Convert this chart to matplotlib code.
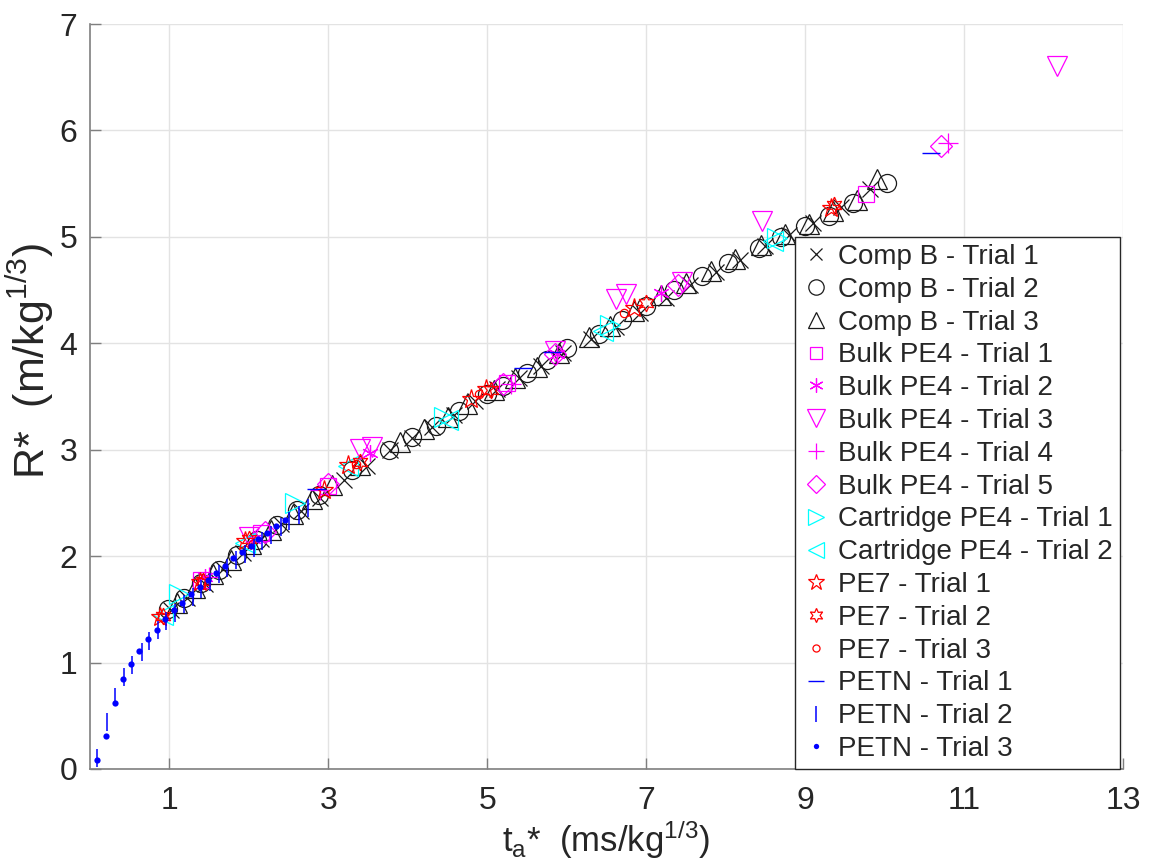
import matplotlib
matplotlib.use("Agg")
import matplotlib.pyplot as plt

plt.rcParams['font.family'] = ['Liberation Sans', 'DejaVu Sans']
plt.rcParams['mathtext.fontset'] = 'custom'
plt.rcParams['mathtext.rm'] = 'Liberation Sans'
plt.rcParams['mathtext.it'] = 'Liberation Sans:italic'

# ---------------- data ----------------
compb1_t = [1.02, 1.22, 1.45, 1.68, 1.92, 2.15, 2.40, 2.65, 2.90, 3.20, 3.48, 3.78, 4.05, 4.30, 4.58, 4.85,
            5.12, 5.40, 5.68, 5.95, 6.30, 6.62, 6.92, 7.25, 7.55, 7.88, 8.18, 8.50, 8.80, 9.10, 9.45, 9.82]
compb1_r = [1.49, 1.61, 1.74, 1.88, 2.03, 2.16, 2.30, 2.42, 2.55, 2.72, 2.85, 3.00, 3.11, 3.21, 3.33, 3.46,
            3.57, 3.67, 3.79, 3.91, 4.04, 4.15, 4.28, 4.43, 4.55, 4.67, 4.78, 4.91, 5.02, 5.13, 5.28, 5.45]

compb2_t = [0.98, 1.18, 1.40, 1.62, 1.85, 2.10, 2.35, 2.60, 2.88, 3.30, 3.76, 4.05, 4.36, 4.65, 5.00, 5.20,
            5.50, 5.75, 6.00, 6.40, 6.70, 7.00, 7.35, 7.70, 8.03, 8.42, 8.70, 9.00, 9.30, 9.60, 10.03]
compb2_r = [1.50, 1.61, 1.75, 1.87, 2.01, 2.15, 2.29, 2.43, 2.57, 2.81, 3.00, 3.12, 3.22, 3.36, 3.52, 3.60,
            3.72, 3.84, 3.96, 4.09, 4.22, 4.35, 4.50, 4.63, 4.75, 4.90, 5.00, 5.10, 5.20, 5.32, 5.51]

compb3_t = [1.10, 1.32, 1.55, 1.78, 2.02, 2.28, 2.55, 2.80, 3.05, 3.40, 3.90, 4.20, 4.50, 4.75, 5.08, 5.35,
            5.62, 5.90, 6.28, 6.55, 6.85, 7.18, 7.50, 7.82, 8.12, 8.45, 8.75, 9.05, 9.35, 9.65, 9.91]
compb3_r = [1.56, 1.70, 1.83, 1.96, 2.11, 2.25, 2.40, 2.54, 2.67, 2.86, 3.07, 3.19, 3.31, 3.43, 3.56, 3.67,
            3.78, 3.91, 4.06, 4.16, 4.30, 4.45, 4.57, 4.68, 4.79, 4.92, 5.03, 5.12, 5.24, 5.35, 5.54]

bulk1_t = [1.40, 2.15, 3.00, 5.25, 9.77]
bulk1_r = [1.78, 2.22, 2.66, 3.63, 5.40]

bulk2_t = [1.45, 2.05, 3.52, 5.88, 7.18]
bulk2_r = [1.80, 2.16, 2.97, 3.90, 4.47]

bulk3_t = [2.00, 3.40, 3.55, 5.85, 6.62, 6.75, 7.45, 8.46, 12.17]
bulk3_r = [2.18, 3.01, 3.03, 3.93, 4.42, 4.46, 4.58, 5.15, 6.61]

bulk4_t = [1.50, 2.90, 5.30, 10.80]
bulk4_r = [1.80, 2.62, 3.62, 5.88]

bulk5_t = [2.20, 3.00, 5.20, 5.85, 7.40, 10.71]
bulk5_r = [2.23, 2.68, 3.62, 3.90, 4.55, 5.85]

cart1_t = [1.12, 2.58, 4.45, 6.55, 8.65]
cart1_r = [1.64, 2.50, 3.31, 4.17, 4.99]

cart2_t = [0.92, 1.95, 3.25, 4.50, 6.45, 8.60]
cart2_r = [1.45, 2.12, 2.85, 3.28, 4.12, 4.96]

pe7_1_t = [0.88, 1.38, 1.95, 2.95, 3.25, 4.80, 4.98, 6.85, 9.33]
pe7_1_r = [1.43, 1.76, 2.14, 2.62, 2.86, 3.48, 3.57, 4.33, 5.27]

pe7_2_t = [0.92, 1.42, 2.00, 3.40, 5.05, 7.00, 9.36]
pe7_2_r = [1.44, 1.77, 2.16, 2.88, 3.56, 4.38, 5.30]

pe7_3_t = [0.90, 1.40, 3.35, 4.90, 6.72]
pe7_3_r = [1.43, 1.76, 2.87, 3.52, 4.28]

petn1_t = [2.85, 5.45, 5.81, 10.58]
petn1_r = [2.63, 3.77, 3.92, 5.79]

petn2_t = [0.09, 0.21, 0.32, 0.43, 0.53, 0.65, 0.74, 0.85, 0.96, 1.07, 1.18, 1.29, 1.40,
           1.51, 1.62, 1.73, 1.84, 1.95, 2.06, 2.17, 2.28, 2.40, 2.51, 2.63, 2.74]
petn2_r = [0.10, 0.44, 0.68, 0.86, 0.98, 1.10, 1.20, 1.31, 1.39, 1.47, 1.55, 1.62, 1.69,
           1.76, 1.83, 1.89, 1.96, 2.02, 2.08, 2.14, 2.20, 2.27, 2.33, 2.39, 2.45]

petn3_t = [0.09, 0.20, 0.31, 0.41, 0.52, 0.62, 0.73, 0.84, 0.95, 1.06, 1.16, 1.27,
           1.38, 1.48, 1.59, 1.70, 1.80, 1.91, 2.02, 2.12, 2.23, 2.34, 2.45]
petn3_r = [0.08, 0.31, 0.62, 0.85, 0.99, 1.11, 1.22, 1.31, 1.41, 1.49, 1.56, 1.64,
           1.71, 1.78, 1.84, 1.91, 1.98, 2.04, 2.10, 2.16, 2.22, 2.28, 2.34]

labels = ["Comp B - Trial 1", "Comp B - Trial 2", "Comp B - Trial 3",
          "Bulk PE4 - Trial 1", "Bulk PE4 - Trial 2", "Bulk PE4 - Trial 3",
          "Bulk PE4 - Trial 4", "Bulk PE4 - Trial 5",
          "Cartridge PE4 - Trial 1", "Cartridge PE4 - Trial 2",
          "PE7 - Trial 1", "PE7 - Trial 2", "PE7 - Trial 3",
          "PETN - Trial 1", "PETN - Trial 2", "PETN - Trial 3"]
x_ticks = [1, 3, 5, 7, 9, 11, 13]
y_ticks = [0, 1, 2, 3, 4, 5, 6, 7]

# ---------------- styles ----------------
K, M, C, R, B = '#1a1a1a', '#ff00ff', '#00ffff', '#ff0000', '#0000ff'
series = [
    (compb1_t, compb1_r, dict(marker='x', color=K, ms=11, mew=0.9)),
    (compb2_t, compb2_r, dict(marker='o', color=K, ms=13, mew=0.9, mfc='none')),
    (compb3_t, compb3_r, dict(marker='^', color=K, ms=14, mew=0.9, mfc='none')),
    (bulk1_t, bulk1_r, dict(marker='s', color=M, ms=11, mew=0.9, mfc='none')),
    (bulk2_t, bulk2_r, dict(marker=(6, 2, 0), color=M, ms=12, mew=0.9)),
    (bulk3_t, bulk3_r, dict(marker='v', color=M, ms=15, mew=0.9, mfc='none')),
    (bulk4_t, bulk4_r, dict(marker='+', color=M, ms=14, mew=0.9)),
    (bulk5_t, bulk5_r, dict(marker='D', color=M, ms=11, mew=0.9, mfc='none')),
    (cart1_t, cart1_r, dict(marker='>', color=C, ms=14, mew=0.9, mfc='none')),
    (cart2_t, cart2_r, dict(marker='<', color=C, ms=14, mew=0.9, mfc='none')),
    (pe7_1_t, pe7_1_r, dict(marker='*', color=R, ms=14, mew=0.9, mfc='none')),
    (pe7_2_t, pe7_2_r, dict(marker=(6, 1, 0), color=R, ms=12, mew=0.9, mfc='none')),
    (pe7_3_t, pe7_3_r, dict(marker='o', color=R, ms=6, mew=0.9, mfc='none')),
    (petn1_t, petn1_r, dict(marker='_', color=B, ms=13, mew=1.0)),
    (petn2_t, petn2_r, dict(marker='|', color=B, ms=13, mew=1.1)),
    (petn3_t, petn3_r, dict(marker='o', color=B, ms=4.5, mew=0, mfc=B)),
]

fig = plt.figure(figsize=(11.49, 8.65), dpi=100)
ax = fig.add_axes([90 / 1149, (865 - 769) / 865, (1123 - 90) / 1149, (769 - 24) / 865])

for (t, r, st), lab in zip(series, labels):
    ax.plot(t, r, linestyle='none', label=lab, **st)

ax.set_xlim(0, 13)
ax.set_ylim(0, 7)
ax.set_xticks(x_ticks)
ax.set_yticks(y_ticks)
ax.grid(True, color='#e3e3e3', linewidth=1.0)
ax.set_axisbelow(True)
for s in ['top', 'right']:
    ax.spines[s].set_visible(False)
for s in ['left', 'bottom']:
    ax.spines[s].set_color('#7f7f7f')
    ax.spines[s].set_linewidth(1.2)
ax.tick_params(direction='in', length=8, width=1.0, color='#7f7f7f',
               labelsize=23, labelcolor='#262626', pad=9)
ax.tick_params(axis='x', pad=12)

ax.set_xlabel(r't$_{\mathrm{a}}$*  (ms/kg$^{\mathrm{1/3}}$)', fontsize=25, color='#262626', labelpad=2)
ax.set_ylabel(r'R*  (m/kg$^{\mathrm{1/3}}$)', fontsize=31, color='#262626')
ax.yaxis.set_label_coords(-0.033, 0.548)

leg = ax.legend(loc='lower right', bbox_to_anchor=(0.997, 0.0), fontsize=20,
                frameon=True, fancybox=False, edgecolor='#262626', framealpha=1,
                handlelength=1.0, handletextpad=0.3, labelspacing=0.245,
                borderpad=0.25, borderaxespad=0.0, markerscale=0.85)
leg.get_frame().set_linewidth(1.0)
for txt in leg.get_texts():
    txt.set_color('#262626')

fig.savefig('out.png', dpi=100)
